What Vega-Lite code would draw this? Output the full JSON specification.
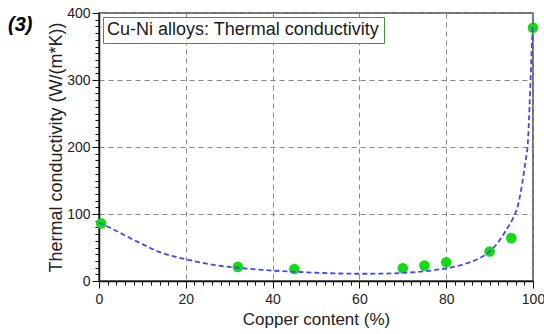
{
  "$schema": "https://vega.github.io/schema/vega-lite/v6.json",
  "autosize": "none",
  "padding": {"left": 99, "top": 13, "right": 11, "bottom": 53},
  "width": 434,
  "height": 268,
  "title": {
    "text": "(3)",
    "anchor": "start",
    "frame": "group",
    "font": "Liberation Sans",
    "fontSize": 20,
    "fontStyle": "italic",
    "fontWeight": "bold",
    "color": "#000000",
    "baseline": "top",
    "offset": 0,
    "dx": -91,
    "dy": 29
  },
  "datasets": {
    "points": [
      {"copper": 0.5, "k": 86, "series": "Cu-Ni alloys: Thermal conductivity"},
      {"copper": 32, "k": 21, "series": "Cu-Ni alloys: Thermal conductivity"},
      {"copper": 45, "k": 18, "series": "Cu-Ni alloys: Thermal conductivity"},
      {"copper": 70, "k": 19, "series": "Cu-Ni alloys: Thermal conductivity"},
      {"copper": 75, "k": 23, "series": "Cu-Ni alloys: Thermal conductivity"},
      {"copper": 80, "k": 28, "series": "Cu-Ni alloys: Thermal conductivity"},
      {"copper": 90, "k": 44, "series": "Cu-Ni alloys: Thermal conductivity"},
      {"copper": 95, "k": 64, "series": "Cu-Ni alloys: Thermal conductivity"},
      {"copper": 100, "k": 378, "series": "Cu-Ni alloys: Thermal conductivity"}
    ],
    "fit": [
      {"copper": 0, "k": 87},
      {"copper": 3, "k": 78},
      {"copper": 6, "k": 68},
      {"copper": 10, "k": 55},
      {"copper": 14, "k": 43},
      {"copper": 18, "k": 35.5},
      {"copper": 22, "k": 29.5},
      {"copper": 26, "k": 24.5},
      {"copper": 30, "k": 21},
      {"copper": 35, "k": 18},
      {"copper": 40, "k": 15.5},
      {"copper": 45, "k": 13.8},
      {"copper": 50, "k": 12.3},
      {"copper": 55, "k": 11.3},
      {"copper": 60, "k": 10.8},
      {"copper": 65, "k": 11},
      {"copper": 70, "k": 12},
      {"copper": 75, "k": 14.5},
      {"copper": 80, "k": 19},
      {"copper": 84, "k": 25},
      {"copper": 87, "k": 32},
      {"copper": 90, "k": 44},
      {"copper": 92, "k": 58},
      {"copper": 94, "k": 78},
      {"copper": 95.5, "k": 95},
      {"copper": 96.5, "k": 112},
      {"copper": 97.5, "k": 145},
      {"copper": 98.3, "k": 180},
      {"copper": 98.8, "k": 205},
      {"copper": 99.2, "k": 260},
      {"copper": 99.5, "k": 310},
      {"copper": 99.8, "k": 360},
      {"copper": 100, "k": 385}
    ]
  },
  "encoding": {
    "x": {
      "field": "copper",
      "type": "quantitative",
      "scale": {"domain": [0, 100], "nice": false, "zero": false},
      "axis": {
        "title": "Copper content (%)",
        "values": [0,2,4,6,8,10,12,14,16,18,20,22,24,26,28,30,32,34,36,38,40,42,44,46,48,50,52,54,56,58,60,62,64,66,68,70,72,74,76,78,80,82,84,86,88,90,92,94,96,98,100],
        "labelExpr": "datum.value % 20 === 0 ? datum.label : ''",
        "tickSize": {"condition": {"test": "datum.value % 20 === 0", "value": 7}, "value": 4},
        "gridOpacity": {"condition": {"test": "datum.value % 20 === 0", "value": 1}, "value": 0},
        "labelPadding": 4,
        "titlePadding": 5,
        "titleFontSize": 17
      }
    },
    "y": {
      "field": "k",
      "type": "quantitative",
      "scale": {"domain": [0, 400], "nice": false, "zero": false},
      "axis": {
        "title": "Thermal conductivity (W/(m*K))",
        "values": [0,10,20,30,40,50,60,70,80,90,100,110,120,130,140,150,160,170,180,190,200,210,220,230,240,250,260,270,280,290,300,310,320,330,340,350,360,370,380,390,400],
        "labelExpr": "datum.value % 100 === 0 ? datum.label : ''",
        "tickSize": {"condition": {"test": "datum.value % 100 === 0", "value": 7}, "value": 4},
        "gridOpacity": {"condition": {"test": "datum.value % 100 === 0", "value": 1}, "value": 0},
        "labelPadding": 2,
        "titlePadding": 1,
        "titleFontSize": 18
      }
    }
  },
  "layer": [
    {
      "data": {"name": "points"},
      "mark": {"type": "circle", "size": 113, "opacity": 1},
      "encoding": {
        "color": {
          "field": "series",
          "type": "nominal",
          "scale": {"range": ["#14dc14"]},
          "legend": {
            "title": null,
            "orient": "top-left",
            "offset": 4,
            "padding": 4,
            "fillColor": "#ffffff",
            "strokeColor": "#3a9a3a",
            "symbolOpacity": 0,
            "symbolSize": 0,
            "symbolStrokeWidth": 0,
            "labelOffset": -18,
            "labelLimit": 500,
            "labelFont": "Liberation Sans",
            "labelFontSize": 18,
            "labelColor": "#1a1a1a"
          }
        }
      }
    },
    {
      "data": {"name": "fit"},
      "mark": {"type": "line", "interpolate": "monotone", "color": "#4545ff", "strokeWidth": 1.8, "strokeDash": [5, 3]},
      "encoding": {}
    }
  ],
  "config": {
    "font": "Liberation Sans",
    "view": {"stroke": "#444444", "strokeWidth": 1.5},
    "axis": {
      "grid": true,
      "gridColor": "#888888",
      "gridDash": [5, 4],
      "gridWidth": 1,
      "domainColor": "#111111",
      "domainWidth": 1.5,
      "tickColor": "#111111",
      "tickWidth": 1,
      "labelFont": "Liberation Sans",
      "labelFontSize": 14,
      "labelColor": "#222222",
      "labelFlush": false,
      "labelOverlap": false,
      "titleFont": "Liberation Sans",
      "titleFontWeight": "normal",
      "titleColor": "#222222"
    }
  }
}
